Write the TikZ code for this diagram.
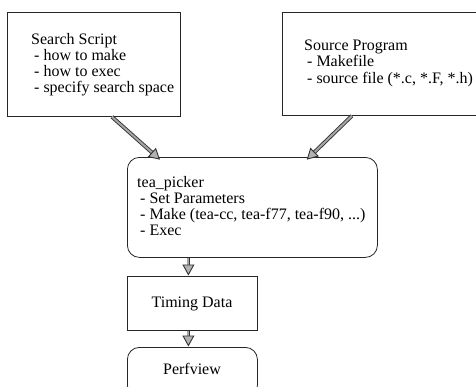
\documentclass[tikz,border=0pt]{standalone}
\usepackage{fontspec}
\setmainfont{Liberation Serif}
\usetikzlibrary{arrows.meta,calc}
\begin{document}
\begin{tikzpicture}[x=1pt,y=-1pt,
  every node/.style={font=\fontsize{16}{16.2}\selectfont},
  box/.style={draw=black!85, line width=0.8pt, inner sep=0pt, anchor=north west},
  rbox/.style={box, rounded corners=12pt},
  txt/.style={align=left, inner sep=0pt},
  fat/.style={draw=black!80, line width=0.9pt, double=black!35, double distance=2pt,
    -{Triangle[open, length=11pt, width=12pt, fill=black!30]}, shorten >=0.5pt}]
\useasboundingbox (0,0) rectangle (476,386);
\clip (0,0) rectangle (476,386);
\fill[white] (0,0) rectangle (476,386);
% boxes
\node[box, minimum width=173pt, minimum height=104pt] (search) at (7,12) {};
\node[box, minimum width=215pt, minimum height=103pt] (source) at (282,12) {};
\node[rbox, minimum width=250pt, minimum height=100pt] (picker) at (127,157) {};
\node[box, minimum width=130pt, minimum height=54pt] (timing) at (127,276) {};
\node[rbox, minimum width=130pt, minimum height=50pt] (perf) at (127,347) {};
% texts
\node[txt, anchor=north west] (searchtxt) at (31,33) {Search Script\\\hspace{3pt}- how to make\\\hspace{3pt}- how to exec\\\hspace{3pt}- specify search space};
\node[txt, anchor=north west] (sourcetxt) at (304,40) {Source Program\\\hspace{3pt}- Makefile\\\hspace{3pt}- source file (*.c, *.F, *.h)};
\node[txt, anchor=north west] (pickertxt) at (137,176) {tea\_picker\\\hspace{3pt}- Set Parameters\\\hspace{3pt}- Make (tea-cc, tea-f77, tea-f90, ...)\\\hspace{3pt}- Exec};
\node[txt] (timingtxt) at (192,304) {Timing Data};
\node[txt] (perftxt) at (192,369) {Perfview};
% connectors
\draw[fat] ($(search.south)+(18,0)$) -- ($(picker.north)+(-92,3)$);
\draw[fat] ($(source.south)+(-38,0)$) -- ($(picker.north)+(54,3)$);
\draw[fat] ($(picker.south)+(-64,0)$) -- ($(timing.north)+(-4,0)$);
\draw[fat] ($(timing.south)+(-4,0)$) -- ($(perf.north)+(-4,0)$);
\end{tikzpicture}
\end{document}
